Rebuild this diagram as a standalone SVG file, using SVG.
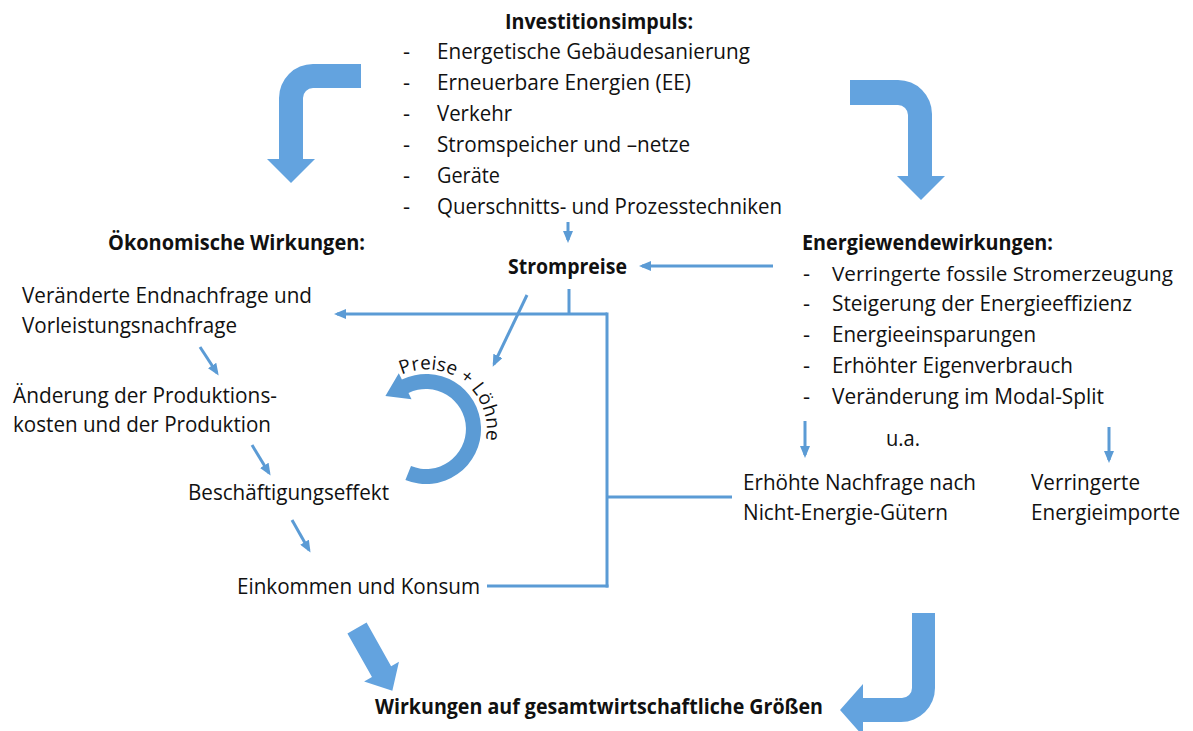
<svg xmlns="http://www.w3.org/2000/svg" width="1193" height="731" viewBox="0 0 1193 731">
<style>
.t{font-family:"Open Sans","Liberation Sans",sans-serif;font-size:22px;fill:#111;}
.s{font-size:20px;}
.b{font-weight:bold;}
.ln{stroke:#5B9BD5;stroke-width:3;fill:none;}
.ar{marker-end:url(#ah);}
.big{fill:#63A3DF;}
.circ{fill:#5B9BD5;}
.arc{font-family:"Open Sans","Liberation Sans",sans-serif;font-size:19px;fill:#111;}
</style>
<defs>
<marker id="ah" viewBox="0 0 12 10" refX="9" refY="5" markerWidth="12" markerHeight="10" markerUnits="userSpaceOnUse" orient="auto"><path d="M0,0 L12,5 L0,10 Z" fill="#5B9BD5"/></marker>
<path id="arcPath" d="M401.8,374.8 A60,60 0 0 1 485.7,440.4"/>
</defs>
<rect width="1193" height="731" fill="#fff"/>

<g id="block-arrows">
<path class="big" d="M361,64 L313,64 A34,34 0 0 0 279,98 L279,159 L267,159 L291,183 L315,159 L303,159 L303,98 A10,10 0 0 1 313,88 L361,88 Z"/>
<path class="big" d="M850,80 L898,80 A34,34 0 0 1 932,114 L932,176 L945,176 L921,200 L897,176 L908,176 L908,115 A10,10 0 0 0 898,105 L850,105 Z"/>
<path class="big" d="M912,613 L935,613 L935,688 A34,34 0 0 1 901,722 L863,722 L863,736 L840,710 L863,684 L863,698 L902,698 A10,10 0 0 0 912,688 Z"/>
<path class="big" transform="translate(357,628) rotate(60.6)" d="M0,-11 L50,-11 L50,-20 L72,0 L50,20 L50,11 L0,11 Z"/>
</g>

<g id="investitionsimpuls">
<text class="t b" x="505" y="29" textLength="188" lengthAdjust="spacingAndGlyphs">Investitionsimpuls:</text>
<text class="t" x="403" y="59">-</text>
<text class="t" x="437" y="59" textLength="313" lengthAdjust="spacingAndGlyphs">Energetische Gebäudesanierung</text>
<text class="t" x="403" y="90">-</text>
<text class="t" x="437" y="90" textLength="254" lengthAdjust="spacingAndGlyphs">Erneuerbare Energien (EE)</text>
<text class="t" x="403" y="121">-</text>
<text class="t" x="437" y="121" textLength="75" lengthAdjust="spacingAndGlyphs">Verkehr</text>
<text class="t" x="403" y="152">-</text>
<text class="t" x="437" y="152" textLength="253" lengthAdjust="spacingAndGlyphs">Stromspeicher und –netze</text>
<text class="t" x="403" y="183">-</text>
<text class="t" x="437" y="183" textLength="63" lengthAdjust="spacingAndGlyphs">Geräte</text>
<text class="t" x="403" y="214">-</text>
<text class="t" x="437" y="214" textLength="345" lengthAdjust="spacingAndGlyphs">Querschnitts- und Prozesstechniken</text>
</g>

<g id="strompreise">
<text class="t b" x="508" y="274" textLength="119" lengthAdjust="spacingAndGlyphs">Strompreise</text>
</g>

<g id="oekonomische-wirkungen">
<text class="t b" x="108" y="250" textLength="257" lengthAdjust="spacingAndGlyphs">Ökonomische Wirkungen:</text>
</g>
<g id="nachfrage">
<text class="t" x="22" y="303" textLength="290" lengthAdjust="spacingAndGlyphs">Veränderte Endnachfrage und</text>
<text class="t" x="22" y="333" textLength="215" lengthAdjust="spacingAndGlyphs">Vorleistungsnachfrage</text>
</g>
<g id="produktion">
<text class="t" x="13" y="403" textLength="264" lengthAdjust="spacingAndGlyphs">Änderung der Produktions-</text>
<text class="t" x="13" y="432" textLength="258" lengthAdjust="spacingAndGlyphs">kosten und der Produktion</text>
</g>
<g id="beschaeftigung">
<text class="t" x="188" y="500" textLength="201" lengthAdjust="spacingAndGlyphs">Beschäftigungseffekt</text>
</g>
<g id="einkommen">
<text class="t" x="237" y="594" textLength="243" lengthAdjust="spacingAndGlyphs">Einkommen und Konsum</text>
</g>

<g id="preise-loehne">
<path class="circ" d="M405.4,480.0 A55,55 0 1 0 401.9,379.6 L398.8,373.3 L385.4,395.9 L411.5,399.3 L408.5,393.0 A40,40 0 1 1 411.0,466.1 Z"/>
<text class="arc"><textPath href="#arcPath">Preise + Löhne</textPath></text>
</g>

<g id="energiewendewirkungen">
<text class="t b" x="802" y="250" textLength="251" lengthAdjust="spacingAndGlyphs">Energiewendewirkungen:</text>
<text class="t" x="803" y="281">-</text>
<text class="t s" x="832" y="281" textLength="341" lengthAdjust="spacingAndGlyphs">Verringerte fossile Stromerzeugung</text>
<text class="t" x="803" y="311">-</text>
<text class="t" x="832" y="311" textLength="300" lengthAdjust="spacingAndGlyphs">Steigerung der Energieeffizienz</text>
<text class="t" x="803" y="342">-</text>
<text class="t" x="832" y="342" textLength="204" lengthAdjust="spacingAndGlyphs">Energieeinsparungen</text>
<text class="t" x="803" y="373">-</text>
<text class="t" x="832" y="373" textLength="241" lengthAdjust="spacingAndGlyphs">Erhöhter Eigenverbrauch</text>
<text class="t" x="803" y="404">-</text>
<text class="t" x="832" y="404" textLength="272" lengthAdjust="spacingAndGlyphs">Veränderung im Modal-Split</text>
<text class="t" x="886" y="446" textLength="34" lengthAdjust="spacingAndGlyphs">u.a.</text>
</g>
<g id="nachfrage-nicht-energie">
<text class="t" x="743" y="490" textLength="233" lengthAdjust="spacingAndGlyphs">Erhöhte Nachfrage nach</text>
<text class="t" x="743" y="520" textLength="205" lengthAdjust="spacingAndGlyphs">Nicht-Energie-Gütern</text>
</g>
<g id="energieimporte">
<text class="t" x="1031" y="490" textLength="109" lengthAdjust="spacingAndGlyphs">Verringerte</text>
<text class="t" x="1031" y="520" textLength="149" lengthAdjust="spacingAndGlyphs">Energieimporte</text>
</g>

<g id="gesamtwirtschaft">
<text class="t b" x="375" y="714" textLength="448" lengthAdjust="spacingAndGlyphs">Wirkungen auf gesamtwirtschaftliche Größen</text>
</g>

<g id="connectors">
<path class="ln ar" d="M568,222 L568,240"/>
<path class="ln ar" d="M773,266 L642,266"/>
<path class="ln" d="M569,289 L569,314"/>
<path class="ln ar" d="M607,314 L337,314"/>
<path class="ln" d="M607,312.5 L607,587.5"/>
<path class="ln" d="M487,586 L608.5,586"/>
<path class="ln" d="M607,497 L732,497"/>
<path class="ln ar" d="M527,295 L494,364"/>
<path class="ln ar" d="M200,347 L217,373"/>
<path class="ln ar" d="M252,445 L269,473"/>
<path class="ln ar" d="M292,520 L309,550"/>
<path class="ln ar" d="M805,421 L805,455"/>
<path class="ln ar" d="M1109,427 L1109,460"/>
</g>
</svg>
